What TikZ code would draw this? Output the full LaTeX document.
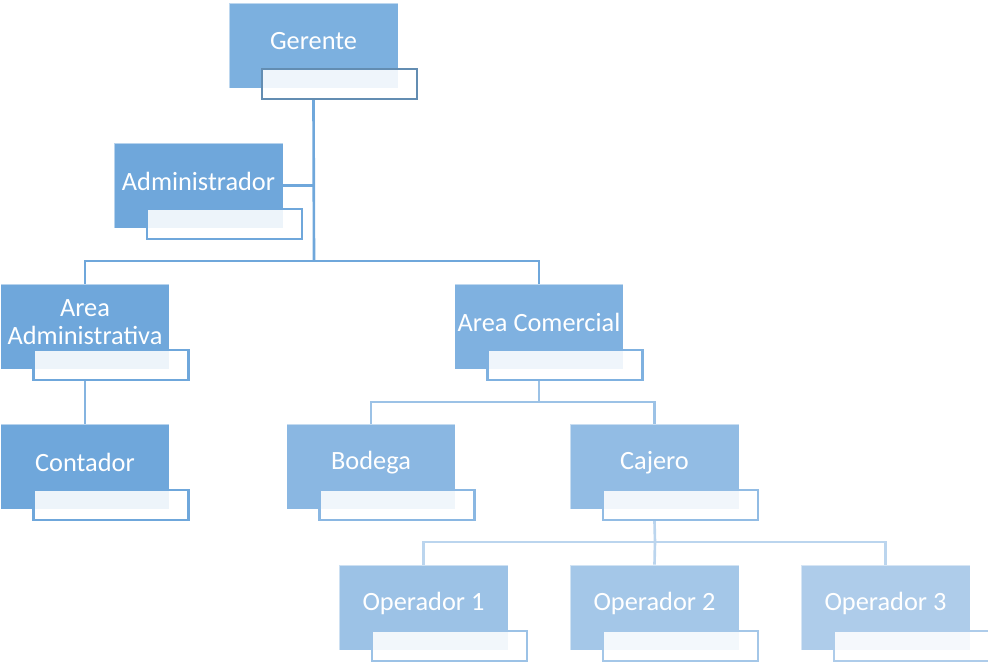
\documentclass[tikz,border=0pt]{standalone}
\usepackage{fontspec}
\setmainfont{Carlito}
\tikzset{
  unit/.style={rectangle, draw=white, draw opacity=0.5, line width=0.4pt,
    minimum width=3.38cm, minimum height=1.7cm, inner sep=0pt},
  tag/.style={rectangle, fill=white, fill opacity=0.88, line width=1.3pt,
    minimum width=3.1cm, minimum height=0.6cm, inner sep=0pt},
  unittext/.style={text=white, align=center, font=\fontsize{15}{16}\selectfont},
  link/.style={line width=1.5pt}
}
\begin{document}
\begin{tikzpicture}[x=0.02cm,y=-0.02cm]
            \useasboundingbox (0,0) rectangle (988,663);

            % Colours of the levels
            \definecolor{cgerente}{HTML}{7CB0DF}%
            \definecolor{cadmin}{HTML}{6FA7DB}%
            \definecolor{careacom}{HTML}{7FB1E0}%
            \definecolor{cbodega}{HTML}{8AB7E2}%
            \definecolor{ccajero}{HTML}{92BCE4}%
            \definecolor{copa}{HTML}{9CC2E6}%
            \definecolor{copb}{HTML}{A4C7E8}%
            \definecolor{copc}{HTML}{AECCEA}%

            % Bus points of the connectors
            \coordinate (busgerente) at (314,261);
            \coordinate (busareacom) at (539,402);
            \coordinate (buscajero) at (655,542);

            % Drawing boxes
            \node [unit, fill=cgerente] (gerente) at (313.5,45.5) {};
            \node [unit, fill=cadmin] (admin) at (198.5,185.5) {};
            \node [unit, fill=cadmin] (areaadm) at (85,326.5) {};
            \node [unit, fill=careacom] (areacom) at (539,326.5) {};
            \node [unit, fill=cadmin] (contador) at (85,466.5) {};
            \node [unit, fill=cbodega] (bodega) at (371,466.5) {};
            \node [unit, fill=ccajero] (cajero) at (654.5,466.5) {};
            \node [unit, fill=copa] (opuno) at (423.5,607.5) {};
            \node [unit, fill=copb] (opdos) at (654.5,607.5) {};
            \node [unit, fill=copc] (optres) at (885.5,607.5) {};

            % Drawing tags
            \node [tag, draw=cgerente!80!black] (gerentetag) at ([xshift=0.52cm,yshift=-0.77cm]gerente.center) {};
            \node [tag, draw=cadmin] (admintag) at ([xshift=0.52cm,yshift=-0.77cm]admin.center) {};
            \node [tag, draw=cadmin] (areaadmtag) at ([xshift=0.52cm,yshift=-0.77cm]areaadm.center) {};
            \node [tag, draw=careacom] (areacomtag) at ([xshift=0.52cm,yshift=-0.77cm]areacom.center) {};
            \node [tag, draw=cadmin] (contadortag) at ([xshift=0.52cm,yshift=-0.77cm]contador.center) {};
            \node [tag, draw=cbodega] (bodegatag) at ([xshift=0.52cm,yshift=-0.77cm]bodega.center) {};
            \node [tag, draw=ccajero] (cajerotag) at ([xshift=0.52cm,yshift=-0.77cm]cajero.center) {};
            \node [tag, draw=copa] (opunotag) at ([xshift=0.52cm,yshift=-0.77cm]opuno.center) {};
            \node [tag, draw=copb] (opdostag) at ([xshift=0.52cm,yshift=-0.77cm]opdos.center) {};
            \node [tag, draw=copc] (optrestag) at ([xshift=0.52cm,yshift=-0.77cm]optres.center) {};

            % Marking texts
            \node [unittext] at ([yshift=0.08cm]gerente.center) {Gerente};
            \node [unittext] at ([yshift=0.08cm]admin.center) {Administrador};
            \node [unittext] at ([yshift=0.08cm]areaadm.center) {Area\\Administrativa};
            \node [unittext] at ([yshift=0.08cm]areacom.center) {Area Comercial};
            \node [unittext] at ([yshift=0.08cm]contador.center) {Contador};
            \node [unittext] at ([yshift=0.08cm]bodega.center) {Bodega};
            \node [unittext] at ([yshift=0.08cm]cajero.center) {Cajero};
            \node [unittext] at ([yshift=0.08cm]opuno.center) {Operador 1};
            \node [unittext] at ([yshift=0.08cm]opdos.center) {Operador 2};
            \node [unittext] at ([yshift=0.08cm]optres.center) {Operador 3};

            % Drawing lines Gerente
            \draw [link, cadmin] (gerente |- gerentetag.south) -- (busgerente);
            \draw [link, cadmin] (admin.east) -- (admin.east -| busgerente);
            \draw [link, cadmin] (areaadm.north) |- (busgerente) -| (areacom.north);

            % Drawing line Area Administrativa
            \draw [link, cadmin!85!white] (areaadm |- areaadmtag.south) -- (contador.north);

            % Drawing lines Area Comercial
            \draw [link, cbodega!85!white] (areacom |- areacomtag.south) -- (busareacom);
            \draw [link, cbodega!85!white] (bodega.north) |- (busareacom) -| (cajero.north);

            % Drawing lines Cajero
            \draw [link, copb!75!white] (cajero |- cajerotag.south) -- (buscajero);
            \draw [link, copb!75!white] (opuno.north) |- (buscajero) -| (optres.north);
            \draw [link, copb!75!white] (buscajero) -- (opdos.north);
\end{tikzpicture}
\end{document}
